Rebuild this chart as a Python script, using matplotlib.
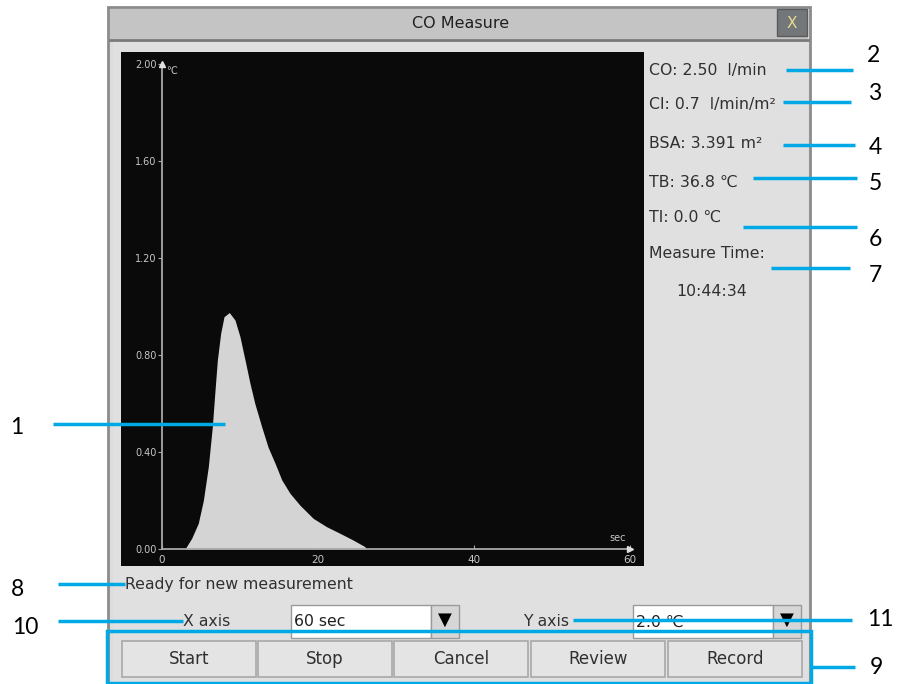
import matplotlib
matplotlib.use("Agg")
import matplotlib.pyplot as plt
from matplotlib.patches import Rectangle

# ---- data ----
t_sec = [0, 2.95, 3.8, 4.65, 5.3, 5.94, 6.45, 6.8, 7.1, 7.52, 7.95, 8.63, 9.36, 10.0, 10.64,
         11.28, 11.9, 12.78, 13.6, 14.5, 15.35, 16.4, 17.7, 19.4, 21.1, 22.8, 24.5, 26.0, 26.2]
temp_c = [0, 0, 0.044, 0.106, 0.20, 0.34, 0.504, 0.656, 0.78, 0.889, 0.958, 0.975, 0.944, 0.875,
          0.78, 0.683, 0.60, 0.504, 0.42, 0.353, 0.285, 0.23, 0.18, 0.126, 0.092, 0.065, 0.037,
          0.01, 0]
x_ticks = [0, 20, 40, 60]
y_ticks = [0.0, 0.4, 0.8, 1.2, 1.6, 2.0]
y_tick_labels = ["0.00", "0.40", "0.80", "1.20", "1.60", "2.00"]
info_lines = ["CO: 2.50  l/min", "CI: 0.7  l/min/m²", "BSA: 3.391 m²", "TB: 36.8 ℃",
              "TI: 0.0 ℃", "Measure Time:"]
measure_time = "10:44:34"
buttons = ["Start", "Stop", "Cancel", "Review", "Record"]

W, H = 902, 684
fig = plt.figure(figsize=(W / 100, H / 100), dpi=100)
fig.patch.set_facecolor("white")

# background overlay in pixel coords
bg = fig.add_axes([0, 0, 1, 1], zorder=0)
bg.set_xlim(0, W); bg.set_ylim(H, 0); bg.axis("off")

def rect(ax, x0, y0, x1, y1, fc, ec="none", lw=1, z=1):
    ax.add_patch(Rectangle((x0, y0), x1 - x0, y1 - y0, facecolor=fc, edgecolor=ec, lw=lw, zorder=z))

TXT = "#303030"
FS = 11.3

# window
rect(bg, 108, 7, 810, 684, "#dcdcdc", "#8c8c8c", 2)
rect(bg, 110, 9, 808, 39, "#c4c4c4", "none")
bg.plot([110, 808], [40, 40], color="#7a7a7a", lw=2, zorder=2)
bg.text(461, 23, "CO Measure", ha="center", va="center", fontsize=11.5, color="#202020",
        family="DejaVu Sans", zorder=3)
rect(bg, 777, 9, 807, 36, "#74777a", "#5a5a5a", 1, z=3)
bg.text(792, 23, "X", ha="center", va="center", fontsize=11, color="#e6dc8c", zorder=4)
rect(bg, 113, 42, 808, 684, "#e0e0e0", "none")
# chart panel
rect(bg, 121, 52, 644, 566, "#0a0a0a", "none", z=2)

# right info
ys = [70, 105, 143, 182, 217, 253]
for s, y in zip(info_lines, ys):
    bg.text(649, y, s, ha="left", va="center", fontsize=FS, color=TXT, zorder=3)
bg.text(712, 292, measure_time, ha="center", va="center", fontsize=FS, color=TXT, zorder=3)

# status / axes selectors
bg.text(125, 585, "Ready for new measurement", ha="left", va="center", fontsize=FS,
        color=TXT, zorder=3)
bg.text(207, 621, "X axis", ha="center", va="center", fontsize=FS, color=TXT, zorder=3)
bg.text(546, 621, "Y axis", ha="center", va="center", fontsize=FS, color=TXT, zorder=3)
for x0, label in [(291, "60 sec"), (633, "2.0 ℃")]:
    rect(bg, x0, 605, x0 + 140, 638, "white", "#9a9a9a", 1, z=3)
    rect(bg, x0 + 140, 605, x0 + 168, 638, "#d6d6d6", "#9a9a9a", 1, z=3)
    bg.text(x0 + 3, 622, label, ha="left", va="center", fontsize=FS, color="#202020", zorder=4)
    bg.text(x0 + 154, 620, "▼", ha="center", va="center", fontsize=13, color="black",
            family="DejaVu Sans", zorder=4)

# buttons
bx = [122, 258, 394, 531, 668]
for x0, lab in zip(bx, buttons):
    rect(bg, x0, 641, x0 + 134, 677, "#e4e4e4", "#a8a8a8", 1.2, z=3)
    bg.text(x0 + 67, 659, lab, ha="center", va="center", fontsize=12, color=TXT, zorder=4)

# ---- chart ----
ax = fig.add_axes([162 / W, (H - 549) / H, 468 / W, 485 / H], zorder=1)
ax.set_facecolor("none")
ax.set_xlim(0, 60); ax.set_ylim(0, 2)
ax.fill_between(t_sec, temp_c, 0, color="#d4d4d4", lw=0, zorder=2)
for side in ["top", "right"]:
    ax.spines[side].set_visible(False)
for side in ["left", "bottom"]:
    ax.spines[side].set_color("#a8a8a8")
    ax.spines[side].set_linewidth(1.3)
ax.set_xticks(x_ticks)
ax.set_yticks(y_ticks)
ax.set_yticklabels(y_tick_labels)
ax.tick_params(axis="y", colors="#a8a8a8", labelcolor="#c8c8c8", labelsize=7, length=3, pad=1)
ax.tick_params(axis="x", colors="#a8a8a8", labelcolor="#c8c8c8", labelsize=7.5, length=3,
               direction="in", pad=4)
ax.plot([0], [2.0], marker="^", color="#e0e0e0", ms=4, clip_on=False, zorder=3)
ax.plot([60], [0], marker=">", color="#e0e0e0", ms=5, clip_on=False, zorder=3)
ax.text(0.5, 1.97, "℃", ha="left", va="center", fontsize=7, color="#c8c8c8")
ax.text(58.4, 0.045, "sec", ha="center", va="center", fontsize=7, color="#c8c8c8")

# ---- callouts (top overlay) ----
top = fig.add_axes([0, 0, 1, 1], zorder=5)
top.set_facecolor("none")
top.set_xlim(0, W); top.set_ylim(H, 0); top.axis("off")
blue = "#00a9e6"
callouts = [
    ("1", (53, 225), 424, 17, 428),
    ("2", (786, 853), 70, 873, 55),
    ("3", (783, 851), 102, 875, 93),
    ("4", (783, 855), 145, 875, 147),
    ("5", (753, 857), 178, 875, 184),
    ("6", (743, 857), 227, 875, 240),
    ("7", (771, 850), 268, 875, 275),
    ("8", (58, 125), 584, 17, 589),
    ("10", (58, 183), 621, 25, 627),
    ("11", (573, 852), 620, 880, 620),
    ("9", (811, 855), 667, 876, 668),
]
for lab, (x0, x1), y, tx, ty in callouts:
    top.plot([x0, x1], [y, y], color=blue, lw=2.5, solid_capstyle="butt")
    top.text(tx, ty, lab, ha="center", va="center", fontsize=16.5, color="black", family="Lato")
top.add_patch(Rectangle((107, 631), 704, 52, facecolor="none", edgecolor=blue, lw=2.5))

fig.savefig("out.png", dpi=100)
